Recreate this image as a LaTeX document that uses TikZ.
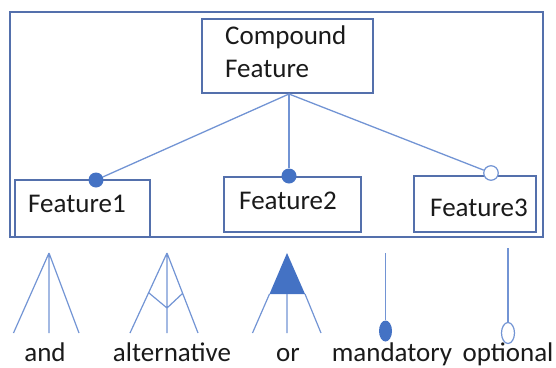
\documentclass[tikz,border=0pt]{standalone}
\usepackage{fontspec}
\setmainfont{Carlito}
\usetikzlibrary{shapes.geometric}
\definecolor{linec}{HTML}{7294D4}
\definecolor{dotc}{HTML}{4472C4}
\definecolor{boxc}{HTML}{5470AC}
\definecolor{txtc}{HTML}{1A1A1A}
\begin{document}
\begin{tikzpicture}[x=1pt,y=-1pt,
  fbox/.style={draw=boxc, line width=1.2pt, rectangle, inner sep=0pt},
  txt/.style={text=txtc, font=\fontsize{27}{32}\selectfont, inner sep=0pt, anchor=base},
  conn/.style={draw=linec, line width=1.3pt},
  fdot/.style={circle, fill=dotc, minimum size=15pt, inner sep=0pt},
  odot/.style={circle, draw=linec, fill=white, line width=1.2pt, minimum size=14.5pt, inner sep=0pt},
]
\useasboundingbox (0,0) rectangle (556,367);
% outer frame
\node[fbox, minimum width=533pt, minimum height=225pt] (outer) at (276.5,124.5) {};
% compound feature
\node[fbox, minimum width=171pt, minimum height=74pt] (comp) at (287.5,56) {};
\node[txt, anchor=base west] (ct1) at (225,44) {Compound};
\node[txt, anchor=base west] (ct2) at (225,77) {Feature};
% features
\node[fbox, minimum width=135pt, minimum height=57.5pt] (f1) at (82.5,208.75) {};
\node[txt] (t1) at (77,212) {Feature1};
\node[fbox, minimum width=137pt, minimum height=55pt] (f2) at (292.5,204.5) {};
\node[txt] (t2) at (288,209) {Feature2};
\node[fbox, minimum width=122pt, minimum height=56pt] (f3) at (475,204) {};
\node[txt] (t3) at (479,216) {Feature3};
% connectors
\coordinate (root) at (289,94);
\node[fdot] (d1) at (96,180) {};
\node[fdot] (d2) at (289,176) {};
\node[odot] (d3) at (491,173) {};
\draw[conn] (root) -- (d1);
\draw[conn] (root) -- (d2);
\draw[conn] (root) -- (d3);
% legend: and
\coordinate (a0) at (49,253);
\coordinate (a1) at (13.5,333);
\coordinate (a2) at (49,333);
\coordinate (a3) at (79,333);
\draw[conn, line width=1.2pt] (a0) -- (a1) (a0) -- (a2) (a0) -- (a3);
% alternative
\coordinate (b0) at (167,253);
\coordinate (b1) at (130,333);
\coordinate (b2) at (167,333);
\coordinate (b3) at (198,333);
\coordinate (bl) at (149,293);
\coordinate (br) at (183,293);
\coordinate (bm) at (167,308);
\draw[conn, line width=1.2pt] (b0) -- (b1) (b0) -- (b2) (b0) -- (b3) (bl) -- (bm) -- (br);
% or
\coordinate (c0) at (287,253);
\coordinate (cl) at (269.5,294);
\coordinate (cr) at (305,294);
\coordinate (cm) at (287,294);
\coordinate (c1) at (252.5,333);
\coordinate (c2) at (287,333);
\coordinate (c3) at (321,333);
\fill[dotc] (c0) -- (cl) -- (cr) -- cycle;
\draw[conn, line width=1.2pt] (cl) -- (c1) (cm) -- (c2) (cr) -- (c3);
% mandatory
\coordinate (mt) at (385.5,253);
\node[ellipse, fill=dotc, minimum width=13pt, minimum height=21pt, inner sep=0pt] (me) at (385.5,331) {};
\draw[conn, line width=1.2pt] (mt) -- (me);
% optional
\coordinate (ot) at (508,248);
\node[ellipse, draw=linec, fill=white, line width=1.2pt, minimum width=13pt, minimum height=21pt, inner sep=0pt] (oe) at (508,333) {};
\draw[conn, line width=1.2pt] (ot) -- (oe);
% labels
\node[txt] (l1) at (45,361) {and};
\node[txt] (l2) at (172,361) {alternative};
\node[txt] (l3) at (288,361) {or};
\node[txt] (l4) at (392,361) {mandatory};
\node[txt] (l5) at (508,361) {optional};
\end{tikzpicture}
\end{document}
